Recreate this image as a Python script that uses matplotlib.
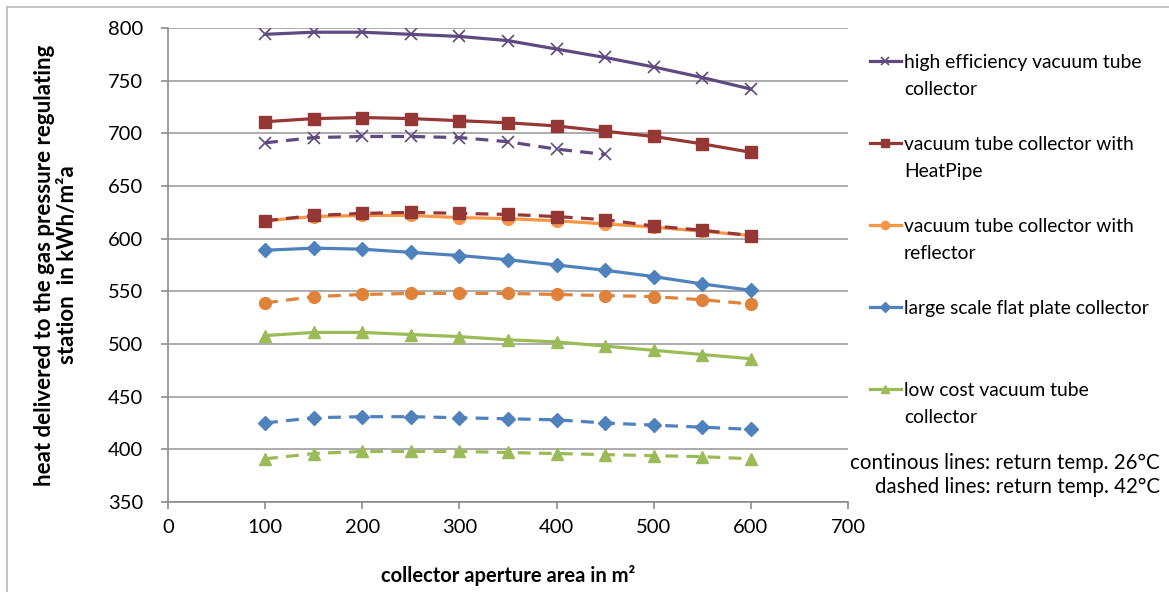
import matplotlib
matplotlib.use("Agg")
import matplotlib.pyplot as plt
from matplotlib.lines import Line2D

plt.rcParams['font.family'] = ['Lato', 'DejaVu Sans']

area = [100, 150, 200, 250, 300, 350, 400, 450, 500, 550, 600]
area_hi_dashed = [100, 150, 200, 250, 300, 350, 400, 450]

hi_eff_26 = [794, 796, 796, 794, 792, 788, 780, 772, 763, 753, 742]
hi_eff_42 = [691, 696, 697, 697, 696, 692, 685, 680]
heatpipe_26 = [711, 714, 715, 714, 712, 710, 707, 702, 697, 690, 682]
heatpipe_42 = [617, 622, 624, 625, 624, 623, 621, 618, 612, 608, 603]
reflector_26 = [617, 621, 622, 622, 620, 619, 617, 614, 611, 607, 603]
reflector_42 = [539, 545, 547, 548, 548, 548, 547, 546, 545, 542, 538]
flat_26 = [589, 591, 590, 587, 584, 580, 575, 570, 564, 557, 551]
flat_42 = [425, 430, 431, 431, 430, 429, 428, 425, 423, 421, 419]
lowcost_26 = [508, 511, 511, 509, 507, 504, 502, 498, 494, 490, 486]
lowcost_42 = [391, 396, 398, 398, 398, 397, 396, 395, 394, 393, 391]

labels = ["high efficiency vacuum tube\ncollector",
          "vacuum tube collector with\nHeatPipe",
          "vacuum tube collector with\nreflector",
          "large scale flat plate collector",
          "low cost vacuum tube\ncollector"]

xticks = [0, 100, 200, 300, 400, 500, 600, 700]
yticks = [350, 400, 450, 500, 550, 600, 650, 700, 750, 800]

purple = '#5e4a80'
red = '#953735'
orange = '#f79646'
orange_d = '#e0823a'
blue = '#4f81bd'
green = '#9bbb59'

W, H = 1169, 592
fig = plt.figure(figsize=(W / 100, H / 100), dpi=100)
ax = fig.add_axes([168 / W, 1 - 502 / H, 680 / W, 474 / H])

lw = 2.3
dash = (4, 2.6)
ms = 8.5
msd = 7.5

# dashed (42 C)
ax.plot(area, lowcost_42, color=green, lw=lw, dashes=dash, marker='^', ms=ms, zorder=3)
ax.plot(area, flat_42, color=blue, lw=lw, dashes=dash, marker='D', ms=msd, zorder=3)
ax.plot(area, reflector_42, color=orange_d, lw=lw, dashes=dash, marker='o', ms=ms, zorder=3)
ax.plot(area_hi_dashed, hi_eff_42, color=purple, lw=lw, dashes=dash, marker='x', ms=ms, mew=1.2, zorder=3)

# continuous (26 C)
h5, = ax.plot(area, lowcost_26, color=green, lw=lw, marker='^', ms=ms, zorder=4)
h4, = ax.plot(area, flat_26, color=blue, lw=lw, marker='D', ms=msd, zorder=4)
h3, = ax.plot(area, reflector_26, color=orange, lw=lw, marker='o', ms=ms, zorder=4)
ax.plot(area, heatpipe_42, color=red, lw=lw, dashes=dash, marker='s', ms=ms, zorder=5)
h2, = ax.plot(area, heatpipe_26, color=red, lw=lw, marker='s', ms=ms, zorder=5)
h1, = ax.plot(area, hi_eff_26, color=purple, lw=lw, marker='x', ms=ms, mew=1.2, zorder=5)

ax.set_xlim(0, 700)
ax.set_ylim(350, 800)
ax.set_xticks(xticks)
ax.set_yticks(yticks)
ax.grid(axis='y', color='#a6a6a6', lw=1.3)
ax.set_axisbelow(True)
for s in ['top', 'right']:
    ax.spines[s].set_visible(False)
for s in ['left', 'bottom']:
    ax.spines[s].set_color('#8c8c8c')
    ax.spines[s].set_linewidth(1.2)
ax.tick_params(axis='y', length=5, width=1.2, color='#8c8c8c', pad=13, labelsize=14.5)
ax.tick_params(axis='x', length=5, width=1.2, color='#8c8c8c', pad=7, labelsize=14.5)

fig.text(56 / W, 1 - 265 / H,
         "heat delivered to the gas pressure regulating\nstation  in kWh/m²a",
         rotation=90, ha='center', va='center', multialignment='center',
         fontsize=16, fontweight='bold', linespacing=1.15)
ax.set_xlabel("collector aperture area in m²", fontsize=14.5, fontweight='bold')
ax.xaxis.set_label_coords(0.5, -0.133)

# legend: entries with first line aligned to the handle
blank = Line2D([], [], color='none')
handles, texts = [], []
for h, lab in zip([h1, h2, h3, h4, h5], labels):
    parts = lab.split('\n')
    handles.append(h)
    texts.append(parts[0])
    handles.append(blank)
    texts.append(parts[1] if len(parts) > 1 else ' ')
    handles.append(blank)
    texts.append(' ')
handles = handles[:-1]
texts = texts[:-1]
leg = fig.legend(handles, texts, loc='upper left',
                 bbox_to_anchor=(870 / W, 1 - 54 / H),
                 frameon=False, fontsize=13.9, handlelength=1.6,
                 handletextpad=0.15, labelspacing=0.535, borderpad=0,
                 borderaxespad=0, markerscale=0.7)

fig.text(1160 / W, 1 - 463 / H, "continous lines: return temp. 26°C",
         ha='right', va='center', fontsize=14.8)
fig.text(1160 / W, 1 - 487 / H, "dashed lines: return temp. 42°C",
         ha='right', va='center', fontsize=14.8)

# outer chart border
fig.add_artist(Line2D([7 / W, 1.0], [1 - 7 / H, 1 - 7 / H], color='#bfbfbf', lw=1.3,
                      transform=fig.transFigure))
fig.add_artist(Line2D([7 / W, 7 / W], [0.0, 1 - 7 / H], color='#bfbfbf', lw=1.3,
                      transform=fig.transFigure))

fig.savefig("out.png", dpi=100)
